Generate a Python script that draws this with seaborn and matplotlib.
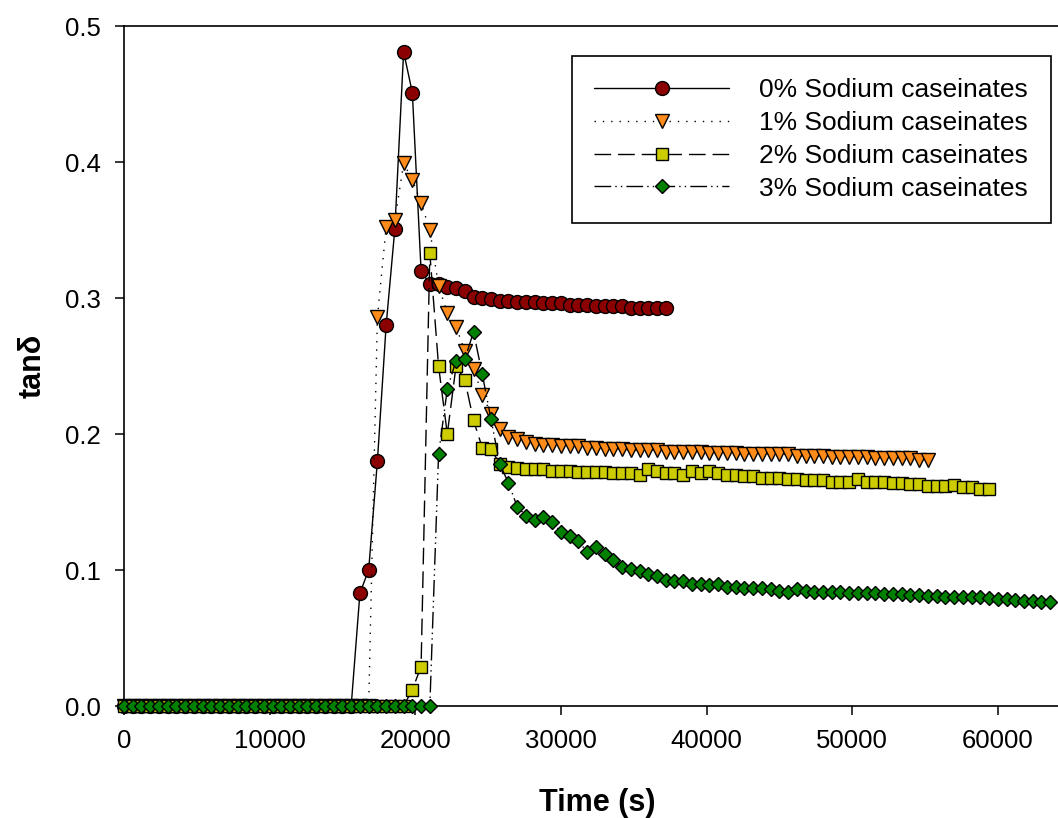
import numpy as np
import pandas as pd
import matplotlib
matplotlib.use('Agg')
import matplotlib.pyplot as plt
import seaborn as sns

sns.set_style('ticks')
plt.rcParams['font.family'] = ['Liberation Sans', 'DejaVu Sans']
plt.rcParams['text.color'] = 'black'
plt.rcParams['axes.labelcolor'] = 'black'
plt.rcParams['xtick.color'] = 'black'
plt.rcParams['ytick.color'] = 'black'

# sampling interval of the rheometer (s); every series starts at t = 0
step = 600

# tanδ values
tan_0 = [0.0] * 27 + [
    0.083, 0.100, 0.180, 0.280, 0.351, 0.481, 0.451, 0.320,
    0.310, 0.310, 0.308, 0.307, 0.305, 0.301, 0.300, 0.299, 0.298, 0.298,
    0.297, 0.297, 0.297, 0.296, 0.296, 0.296, 0.295, 0.295, 0.295, 0.294,
    0.294, 0.294, 0.294, 0.293, 0.293, 0.293, 0.293, 0.293]

tan_1 = [0.0] * 29 + [
    0.286, 0.352, 0.357, 0.399, 0.387, 0.370, 0.350, 0.309, 0.289, 0.279,
    0.261, 0.248, 0.229, 0.215, 0.204, 0.198,
    0.196, 0.194, 0.193, 0.192, 0.192, 0.191, 0.191, 0.191, 0.190, 0.190,
    0.189, 0.189, 0.189, 0.188, 0.188, 0.188, 0.188, 0.187, 0.187, 0.187,
    0.187, 0.187, 0.186, 0.186, 0.186, 0.186, 0.185, 0.185, 0.185, 0.185,
    0.185, 0.185, 0.184, 0.184, 0.184, 0.184, 0.183, 0.183, 0.183, 0.183,
    0.183, 0.182, 0.182, 0.182, 0.182, 0.182, 0.181, 0.181]

tan_2 = [0.0] * 33 + [
    0.012, 0.029, 0.333, 0.250, 0.200, 0.250, 0.240, 0.210, 0.190, 0.189,
    0.178, 0.176,
    0.175, 0.174, 0.174, 0.174, 0.173, 0.173, 0.173, 0.172, 0.172, 0.172,
    0.172, 0.171, 0.171, 0.171, 0.170, 0.174, 0.173, 0.171, 0.171, 0.170,
    0.173, 0.171, 0.173, 0.171, 0.170, 0.170, 0.169, 0.169, 0.168, 0.168,
    0.168, 0.167, 0.167, 0.166, 0.166, 0.166, 0.165, 0.165, 0.165, 0.167,
    0.165, 0.165, 0.165, 0.164, 0.164, 0.163, 0.163, 0.162, 0.162, 0.162,
    0.1625, 0.161, 0.161, 0.1595, 0.1595]

tan_3 = [0.0] * 36 + [
    0.185, 0.233, 0.254, 0.255, 0.275, 0.244, 0.211, 0.178, 0.164, 0.1465,
    0.140, 0.137, 0.139, 0.1355, 0.128, 0.125, 0.121, 0.1135, 0.1167, 0.112,
    0.107, 0.1024, 0.101, 0.099, 0.097, 0.0956, 0.0926, 0.092, 0.092, 0.090,
    0.090, 0.089, 0.090, 0.0873, 0.0873, 0.087, 0.0865, 0.0865, 0.0858, 0.0848,
    0.084, 0.0858,
    0.0845, 0.084, 0.084, 0.0835, 0.0835, 0.083, 0.083, 0.083, 0.083, 0.0825,
    0.082, 0.082, 0.0815, 0.0815, 0.081, 0.081, 0.0805, 0.0805, 0.080, 0.080,
    0.080, 0.0795, 0.079, 0.0785, 0.078, 0.0775, 0.077, 0.0768, 0.0766]

labels = ['0% Sodium caseinates', '1% Sodium caseinates',
          '2% Sodium caseinates', '3% Sodium caseinates']
series = [tan_0, tan_1, tan_2, tan_3]

# styles
markers = ['o', 'v', 's', 'D']
sizes = [10, 9.5, 8.5, 7.5]
faces = ['#8B0000', '#FF8C1A', '#CCCC00', '#008000']
dashes = ['-', (0, (1, 5)), (0, (12, 5)), (0, (12, 3, 1, 3, 1, 3))]

fig = plt.figure(figsize=(10.58, 8.18), dpi=100)
# the right part of the frame runs past the picture edge, as in the original
x_right = 124 + 65000 * 0.014563
ax = fig.add_axes([124 / 1058, 1 - 706 / 818, (x_right - 124) / 1058, 680 / 818])

for vals, lab, m, ms, fc, ls in zip(series, labels, markers, sizes, faces, dashes):
    df = pd.DataFrame({'time': np.arange(len(vals)) * step, 'tan': vals})
    sns.lineplot(data=df, x='time', y='tan', ax=ax, estimator=None, sort=False,
                 color='black', linewidth=1.0, linestyle=ls,
                 marker=m, markersize=ms, markerfacecolor=fc,
                 markeredgecolor='black', markeredgewidth=1.0,
                 label=lab, clip_on=False, zorder=5)

ax.set_xlim(0, 65000)
ax.set_ylim(0, 0.5)
ax.set_xticks(np.arange(0, 60001, 10000))
ax.set_yticks([0.0, 0.1, 0.2, 0.3, 0.4, 0.5])
ax.set_yticklabels(['0.0', '0.1', '0.2', '0.3', '0.4', '0.5'])
ax.tick_params(direction='out', length=6.5, width=1.1, labelsize=18.5, pad=10,
               colors='black')
for s in ['left', 'bottom', 'top', 'right']:
    ax.spines[s].set_linewidth(1.2)
    ax.spines[s].set_color('black')

ax.set_xlabel('Time (s)', fontsize=22, fontweight='bold', labelpad=25)
ax.set_ylabel('tanδ', fontsize=22, fontweight='bold', labelpad=13)

leg = ax.legend(loc='upper left', bbox_to_anchor=(572 / 1058, 1 - 56 / 818),
                bbox_transform=fig.transFigure, borderaxespad=0,
                fontsize=19, handlelength=5.1, handletextpad=1.15,
                numpoints=1, labelspacing=0.33, borderpad=0.85,
                fancybox=False, framealpha=1, edgecolor='black')
leg.get_frame().set_linewidth(1.2)

fig.savefig('out.png', dpi=100)
